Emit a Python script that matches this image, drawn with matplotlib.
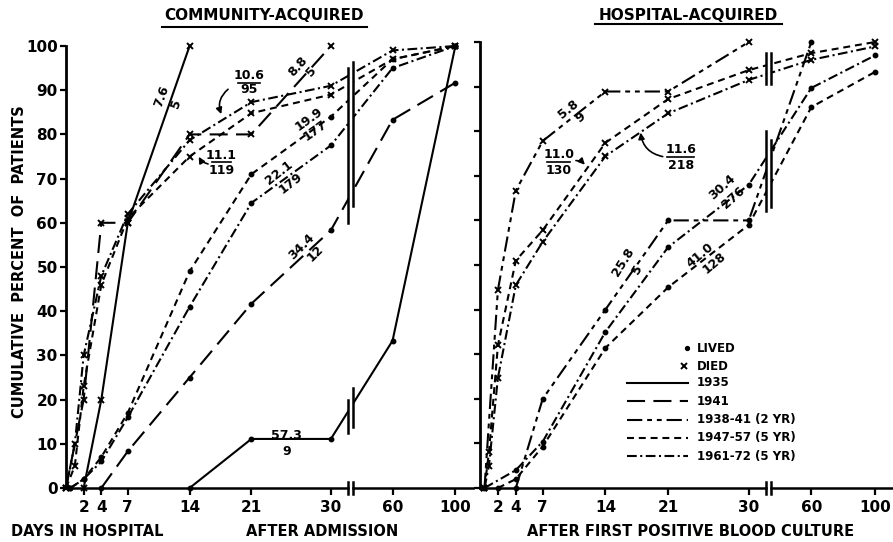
import numpy as np
import matplotlib

matplotlib.use("Agg")

import matplotlib.pyplot as plt
from matplotlib.lines import Line2D
from matplotlib.patches import Rectangle

plt.rcParams["font.family"] = ["DejaVu Sans"]
plt.rcParams["font.weight"] = "bold"
plt.rcParams["lines.scale_dashes"] = False

W, H = 893, 542

# x axis: days after admission / first positive culture, with a break after 30
TICK_DAYS = [2, 4, 7, 14, 21, 30, 60, 100]
TICK_LABELS = ["2", "4", "7", "14", "21", "30", "60", "100"]
Y_TICKS = list(range(0, 101, 10))

# community-acquired
COM_1935_LIVED_DAYS = [14, 21, 30, 60, 100]
COM_1935_LIVED_PCT = [0, 11.1, 11.1, 33.3, 100]
COM_1935_DIED_DAYS = [2, 4, 7, 14]
COM_1935_DIED_PCT = [0, 20, 60, 100]
COM_1941_LIVED_DAYS = [4, 7, 14, 21, 30, 60, 100]
COM_1941_LIVED_PCT = [0, 8.3, 25, 41.7, 58.3, 83.3, 91.7]
COM_1941_DIED_DAYS = [0, 2, 4, 7, 14, 21, 30]
COM_1941_DIED_PCT = [0, 20, 60, 60, 80, 80, 100]
COM_4757_LIVED_DAYS = [0.5, 2, 4, 7, 14, 21, 30, 60, 100]
COM_4757_LIVED_PCT = [0, 2, 7, 17, 49, 71, 84, 97, 100]
COM_4757_DIED_DAYS = [0, 1, 2, 4, 7, 14, 21, 30, 60, 100]
COM_4757_DIED_PCT = [0, 5, 23, 46, 61, 75, 84.8, 89, 97, 100]
COM_6172_LIVED_DAYS = [0.5, 2, 4, 7, 14, 21, 30, 60, 100]
COM_6172_LIVED_PCT = [0, 2, 6, 16, 41, 64.5, 77.5, 95, 100]
COM_6172_DIED_DAYS = [0, 1, 2, 4, 7, 14, 21, 30, 60, 100]
COM_6172_DIED_PCT = [0, 10, 30, 48, 62, 78.7, 87.3, 91, 99, 100]

# hospital-acquired
HOS_3841_LIVED_DAYS = [4, 7, 14, 21, 30, 60]
HOS_3841_LIVED_PCT = [0, 20, 40, 60, 60, 100]
HOS_3841_DIED_DAYS = [0.5, 2, 4, 7, 14, 21, 30]
HOS_3841_DIED_PCT = [0, 44.4, 66.7, 77.8, 88.9, 88.9, 100]
HOS_4757_LIVED_DAYS = [2, 4, 7, 14, 21, 30, 60, 100]
HOS_4757_LIVED_PCT = [0, 2, 9.3, 31.4, 45, 59, 85.4, 93.3]
HOS_4757_DIED_DAYS = [0.5, 1, 2, 4, 7, 14, 21, 30, 60, 100]
HOS_4757_DIED_PCT = [0, 8, 32, 51, 57.8, 77.4, 87.2, 93.7, 97.5, 100]
HOS_6172_LIVED_DAYS = [0.5, 4, 7, 14, 21, 30, 60, 100]
HOS_6172_LIVED_PCT = [0, 4, 10.4, 35, 54, 68, 89.7, 97]
HOS_6172_DIED_DAYS = [0.5, 1, 2, 4, 7, 14, 21, 30, 60, 100]
HOS_6172_DIED_PCT = [0, 5, 24.7, 45.5, 55.2, 74.4, 84, 91.5, 96, 99]

PERIODS = ["1935", "1941", "1938-41 (2 YR)", "1947-57 (5 YR)", "1961-72 (5 YR)"]
DASHES = {
    "1935": "-",
    "1941": (0, (13, 6)),
    "1938-41 (2 YR)": (0, (11, 3.5, 3.5, 3.5, 3.5, 3.5)),
    "1947-57 (5 YR)": (0, (5, 3.5)),
    "1961-72 (5 YR)": (0, (7, 2.5, 1.5, 2.5)),
}

K = 0.178          # compression of the axis beyond the break
BRK_A, BRK_B = 31.9, 34.6


def fwd(d):
    d = np.asarray(d, float)
    return np.where(d <= 32, d, 32 + (d - 32) * K)


def inv(t):
    t = np.asarray(t, float)
    return np.where(t <= 32, t, 32 + (t - 32) / K)


def fx(px):
    return px / W


def fy(py):
    return 1 - py / H


def curve(ax, days, pct, period, died):
    ax.plot(days, pct, color="k", lw=1.5, linestyle=DASHES[period],
            marker="x" if died else "o", ms=4.5 if died else 2.8, mew=1.4,
            clip_on=False, zorder=2)


def setup(ax, xmax, labels):
    ax.set_xscale("function", functions=(fwd, inv))
    ax.set_xlim(0, xmax)
    ax.set_ylim(0, 100)
    for s in ("top", "right", "bottom"):
        ax.spines[s].set_visible(False)
    ax.spines["left"].set_linewidth(2)
    ax.set_xticks(TICK_DAYS)
    ax.set_xticklabels(TICK_LABELS)
    ax.set_yticks(Y_TICKS)
    if not labels:
        ax.set_yticklabels([])
    ax.tick_params(axis="both", direction="out", width=1.6, length=4,
                   labelsize=11)
    ax.tick_params(axis="x", pad=4, length=5)
    ax.tick_params(axis="y", pad=2)
    # broken x axis line
    kw = dict(color="k", lw=1.8, clip_on=False, zorder=5)
    ax.plot([0, BRK_A], [0, 0], **kw)
    ax.plot([BRK_B, xmax], [0, 0], **kw)
    for b in (BRK_A, BRK_B):
        ax.plot([b, b], [-1.4, 1.4], **kw)


def cut(ax, spans):
    # white gap between the break bars, then the bars themselves
    for (a0, a1), (b0, b1) in spans:
        lo, hi = min(a0, b0), max(a1, b1)
        ax.add_patch(Rectangle((BRK_A, lo), BRK_B - BRK_A, hi - lo,
                               fc="white", ec="none", zorder=3))
        ax.plot([BRK_A, BRK_A], [a0, a1], color="k", lw=1.8, zorder=4)
        ax.plot([BRK_B, BRK_B], [b0, b1], color="k", lw=1.8, zorder=4)


def frac(ax, top, bottom, p_top, p_bot, rot):
    kw = dict(ha="center", va="center", fontsize=9, rotation=rot,
              rotation_mode="anchor")
    ax.text(*p_top, top, **kw)
    ax.text(*p_bot, bottom, **kw)


def stacked(ax, top, bottom, x, y_top, y_bar, y_bot, half):
    ax.text(x, y_top, top, ha="center", va="center", fontsize=9)
    ax.text(x, y_bot, bottom, ha="center", va="center", fontsize=9)
    ax.plot([x - half, x + half], [y_bar, y_bar], color="k", lw=1.2)


def arrow(ax, start, tip, rad):
    ax.annotate("", xy=tip, xytext=start,
                arrowprops=dict(arrowstyle="-|>", color="k", lw=1.2,
                                mutation_scale=9,
                                connectionstyle=f"arc3,rad={rad}"))


fig = plt.figure(figsize=(W / 100, H / 100), dpi=100)
ax1 = fig.add_axes([fx(66), fy(488), fx(473) - fx(66), fy(46) - fy(488)])
ax2 = fig.add_axes([fx(480), fy(488), fx(893) - fx(480), fy(42) - fy(488)])

setup(ax1, float(inv(46.1)), True)
setup(ax2, float(inv(46.1)), False)

# community-acquired curves
curve(ax1, COM_1935_LIVED_DAYS, COM_1935_LIVED_PCT, "1935", False)
curve(ax1, COM_1935_DIED_DAYS, COM_1935_DIED_PCT, "1935", True)
curve(ax1, COM_1941_LIVED_DAYS, COM_1941_LIVED_PCT, "1941", False)
curve(ax1, COM_1941_DIED_DAYS, COM_1941_DIED_PCT, "1941", True)
curve(ax1, COM_4757_LIVED_DAYS, COM_4757_LIVED_PCT, "1947-57 (5 YR)", False)
curve(ax1, COM_4757_DIED_DAYS, COM_4757_DIED_PCT, "1947-57 (5 YR)", True)
curve(ax1, COM_6172_LIVED_DAYS, COM_6172_LIVED_PCT, "1961-72 (5 YR)", False)
curve(ax1, COM_6172_DIED_DAYS, COM_6172_DIED_PCT, "1961-72 (5 YR)", True)
cut(ax1, [((60, 95), (63.8, 96.4)), ((12.4, 20), (13.8, 22.6))])

# hospital-acquired curves
curve(ax2, HOS_3841_LIVED_DAYS, HOS_3841_LIVED_PCT, "1938-41 (2 YR)", False)
curve(ax2, HOS_3841_DIED_DAYS, HOS_3841_DIED_PCT, "1938-41 (2 YR)", True)
curve(ax2, HOS_4757_LIVED_DAYS, HOS_4757_LIVED_PCT, "1947-57 (5 YR)", False)
curve(ax2, HOS_4757_DIED_DAYS, HOS_4757_DIED_PCT, "1947-57 (5 YR)", True)
curve(ax2, HOS_6172_LIVED_DAYS, HOS_6172_LIVED_PCT, "1961-72 (5 YR)", False)
curve(ax2, HOS_6172_DIED_DAYS, HOS_6172_DIED_PCT, "1961-72 (5 YR)", True)
cut(ax2, [((90.5, 97.5), (90.5, 97.5)), ((62, 80), (63, 78))])

# mean days / number of patients
frac(ax1, "7.6", "5", (10.8, 88.5), (12.5, 86.9), 70)
frac(ax1, "8.8", "5", (26.3, 95.3), (27.8, 94.2), 48)
frac(ax1, "19.9", "177", (27.5, 83.5), (28.2, 81.0), 36)
frac(ax1, "22.1", "179", (24.1, 71.3), (25.4, 69.0), 38)
frac(ax1, "34.4", "12", (26.7, 54.6), (28.2, 53.2), 45)
ax1.text(25.0, 11.9, "57.3", ha="center", va="center", fontsize=9)
ax1.text(25.0, 8.3, "9", ha="center", va="center", fontsize=9)
stacked(ax1, "10.6", "95", 20.7, 93.4, 91.7, 90.2, 1.25)
arrow(ax1, (18.6, 90.6), (17.7, 84.0), 0.4)
stacked(ax1, "11.1", "119", 17.6, 75.3, 73.8, 71.8, 1.1)
arrow(ax1, (16.4, 73.2), (14.9, 75.5), -0.3)

frac(ax2, "5.8", "9", (9.9, 84.8), (11.2, 83.0), 39)
frac(ax2, "30.4", "276", (27.0, 67.5), (28.3, 65.2), 42)
frac(ax2, "41.0", "128", (24.6, 52.2), (26.1, 50.4), 40)
frac(ax2, "25.8", "5", (16.0, 50.7), (17.6, 48.9), 58)
stacked(ax2, "11.0", "130", 8.8, 74.8, 73.1, 71.3, 1.3)
arrow(ax2, (10.4, 73.4), (11.9, 72.0), -0.3)
stacked(ax2, "11.6", "218", 22.4, 75.9, 74.2, 72.4, 1.5)
arrow(ax2, (20.7, 74.2), (17.9, 80.3), -0.4)

# legend
fig.add_artist(Line2D([fx(687)], [fy(348)], marker="o", ms=2.8, color="k",
                      transform=fig.transFigure))
fig.text(fx(697), fy(348), "LIVED", fontsize=8.5, va="center")
fig.add_artist(Line2D([fx(684)], [fy(366)], marker="x", ms=4.5, mew=1.4,
                      color="k", transform=fig.transFigure))
fig.text(fx(697), fy(366), "DIED", fontsize=8.5, va="center")
for i, period in enumerate(PERIODS):
    y = 383 + i * 18.3
    fig.add_artist(Line2D([fx(627), fx(688)], [fy(y), fy(y)], color="k",
                          lw=1.5, linestyle=DASHES[period],
                          transform=fig.transFigure))
    fig.text(fx(697), fy(y), period, fontsize=8.5, va="center")

# titles and axis texts
for text, cx, cy, x0, x1, uy in [
        ("COMMUNITY-ACQUIRED", 264, 16, 162, 367, 27),
        ("HOSPITAL-ACQUIRED", 688, 15, 595, 782, 24)]:
    fig.text(fx(cx), fy(cy), text, ha="center", va="center", fontsize=11)
    fig.add_artist(Line2D([fx(x0), fx(x1)], [fy(uy), fy(uy)], color="k",
                          lw=1.5, transform=fig.transFigure))

fig.text(fx(20), fy(262), "CUMULATIVE  PERCENT  OF  PATIENTS", rotation=90,
         ha="center", va="center", fontsize=10.5)
fig.text(fx(87), fy(532), "DAYS IN HOSPITAL", ha="center", va="center",
         fontsize=10.5)
fig.text(fx(322), fy(532), "AFTER ADMISSION", ha="center", va="center",
         fontsize=10.5)
fig.text(fx(691), fy(532), "AFTER FIRST POSITIVE BLOOD CULTURE",
         ha="center", va="center", fontsize=10.5)

fig.savefig("out.png", dpi=100, facecolor="white")
plt.close(fig)
